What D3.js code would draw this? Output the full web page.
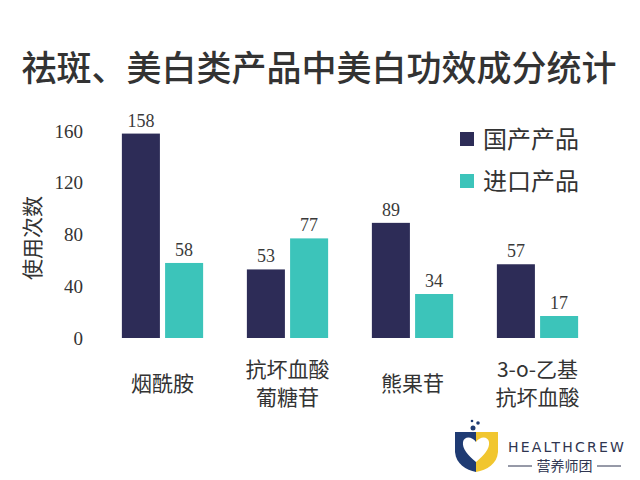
<!DOCTYPE html>
<html><head><meta charset="utf-8">
<script src="https://cdn.jsdelivr.net/npm/d3@7"></script>
<style>body{margin:0;background:#fff}</style>
</head><body>
<script>
const categories = [["烟酰胺"], ["抗坏血酸", "葡糖苷"], ["熊果苷"], ["3-o-乙基", "抗坏血酸"]];
const seriesNames = ["国产产品", "进口产品"];
const domestic = [158, 53, 89, 57];
const imported = [58, 77, 34, 17];
const yTicks = [0, 40, 80, 120, 160];
const colors = ["#2d2c57", "#3cc4ba"];

const W = 640, H = 480;
const svg = d3.select("body").append("svg").attr("width", W).attr("height", H)
  .style("font-family", "'Noto Sans CJK SC', 'Noto Sans', sans-serif");
svg.append("rect").attr("width", W).attr("height", H).attr("fill", "#fff");

svg.append("text").attr("x", 319).attr("y", 81).attr("text-anchor", "middle")
  .attr("font-size", 35).attr("font-weight", 500).attr("fill", "#333")
  .text("祛斑、美白类产品中美白功效成分统计");

const idx = d3.range(categories.length);
const x0 = d3.scaleBand().domain(idx).range([100, 600]).paddingInner(0.35).paddingOuter(0.175);
const x1 = d3.scaleBand().domain([0, 1]).range([0, x0.bandwidth()]).paddingInner(0.12);
const y = d3.scaleLinear().domain([0, 160]).range([338, 131]);

// y axis
const yAxis = d3.axisLeft(y).tickValues(yTicks).tickSize(0).tickPadding(0);
const ga = svg.append("g").attr("transform", "translate(83,0)").call(yAxis);
ga.select(".domain").remove();
ga.selectAll("text").attr("font-family", "'Liberation Serif', serif").attr("font-size", 19).attr("fill", "#333");

svg.append("text").attr("transform", "translate(40,238) rotate(-90)").attr("text-anchor", "middle")
  .attr("font-size", 21).attr("fill", "#333").text("使用次数");

const data = idx.map(i => [domestic[i], imported[i]]);
const g = svg.append("g");
idx.forEach(i => {
  data[i].forEach((v, s) => {
    const bx = x0(i) + x1(s);
    g.append("rect").attr("x", bx).attr("y", y(v)).attr("width", x1.bandwidth())
      .attr("height", y(0) - y(v)).attr("fill", colors[s]);
    g.append("text").attr("x", bx + x1.bandwidth() / 2).attr("y", y(v) - 7)
      .attr("text-anchor", "middle").attr("font-family", "'Liberation Serif', serif")
      .attr("font-size", 18).attr("fill", "#3a3a3a").text(v);
  });
  const cx = x0(i) + x0.bandwidth() / 2;
  const lines = categories[i];
  lines.forEach((t, k) => {
    const yy = lines.length === 1 ? 391 : 377 + k * 28;
    svg.append("text").attr("x", cx).attr("y", yy).attr("text-anchor", "middle")
      .attr("font-size", 21).attr("fill", "#333").text(t);
  });
});

// legend
seriesNames.forEach((n, s) => {
  const ly = 139 + s * 42;
  svg.append("rect").attr("x", 460).attr("y", ly - 7).attr("width", 14).attr("height", 14).attr("fill", colors[s]);
  svg.append("text").attr("x", 483).attr("y", ly + 8.5).attr("font-size", 24).attr("fill", "#333").text(n);
});

// logo
const lg = svg.append("g");
lg.append("path").attr("d", "M455,432 L476,432 L476,472 C466,470 456,464 455,452 Z").attr("fill", "#1f3b73");
lg.append("path").attr("d", "M476,432 L498,432 L498,452 C497,464 487,470 476,472 Z").attr("fill", "#f1c62f");
lg.append("path").attr("d", "M476,462 C468,455 462,449 463,442 C464,436 472,436 476,442 C480,436 488,436 489,442 C490,449 484,455 476,462 Z").attr("fill", "#fff");
lg.append("circle").attr("cx", 473).attr("cy", 428).attr("r", 2.5).attr("fill", "#1f3b73");
lg.append("circle").attr("cx", 478).attr("cy", 423).attr("r", 1.8).attr("fill", "#1f3b73");
lg.append("circle").attr("cx", 472).attr("cy", 421).attr("r", 1.3).attr("fill", "#1f3b73");
svg.append("text").attr("x", 508).attr("y", 452).attr("font-size", 14).attr("letter-spacing", 2.2)
  .attr("font-family", "'DejaVu Sans', sans-serif").attr("fill", "#2f3550").text("HEALTHCREW");
svg.append("line").attr("x1", 508).attr("x2", 532).attr("y1", 466).attr("y2", 466).attr("stroke", "#2f3550").attr("stroke-width", 1);
svg.append("line").attr("x1", 597).attr("x2", 621).attr("y1", 466).attr("y2", 466).attr("stroke", "#2f3550").attr("stroke-width", 1);
svg.append("text").attr("x", 564.5).attr("y", 471).attr("text-anchor", "middle").attr("font-size", 14)
  .attr("fill", "#2f3550").text("营养师团");
</script>
</body></html>
